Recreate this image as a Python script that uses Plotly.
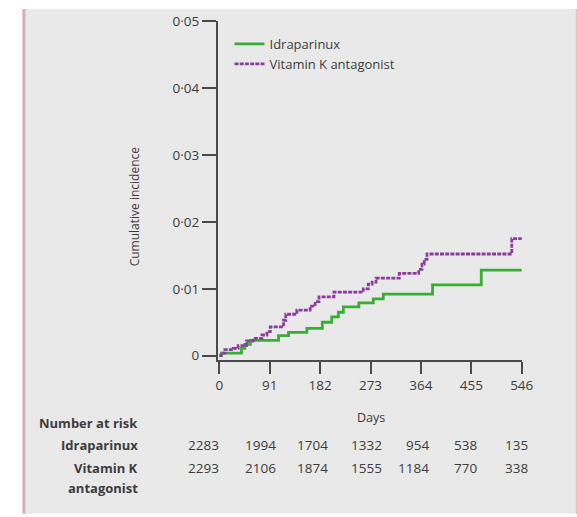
import plotly.graph_objects as go

# ---- data ----
idra_days = [0, 4, 40, 46, 56, 107, 125, 158, 186, 203, 215, 224, 252, 278, 296, 385, 473, 546]
idra_inc = [0, 0.0004, 0.0011, 0.0017, 0.0023, 0.0030, 0.0035, 0.0041, 0.0050, 0.0058, 0.0065,
            0.0073, 0.0079, 0.0085, 0.0092, 0.0106, 0.0128, 0.0128]

vka_days = [0, 3, 10, 25, 34, 49, 61, 77, 86, 92, 116, 120, 140, 164, 173, 180, 207, 260, 269,
            276, 283, 325, 360, 366, 370, 375, 528, 546]
vka_inc = [0, 0.0004, 0.0009, 0.0011, 0.0015, 0.0022, 0.0026, 0.0031, 0.0036, 0.0043, 0.0053,
           0.0062, 0.0068, 0.0074, 0.0081, 0.0088, 0.0095, 0.0100, 0.0107, 0.0110, 0.0116,
           0.0123, 0.0129, 0.0137, 0.0144, 0.0152, 0.0175, 0.0175]

x_ticks = [0, 91, 182, 273, 364, 455, 546]
y_ticks = [0, 0.01, 0.02, 0.03, 0.04, 0.05]
y_tick_labels = ["0", "0·01", "0·02", "0·03", "0·04", "0·05"]

risk_idra = [2283, 1994, 1704, 1332, 954, 538, 135]
risk_vka = [2293, 2106, 1874, 1555, 1184, 770, 338]

series_names = ["Idraparinux", "Vitamin K antagonist"]

# ---- layout geometry ----
W, H = 577, 517
ML, MR, MT, MB = 218, 55, 18, 157
PW, PH = W - ML - MR, H - MT - MB


def px_x(px):
    return (px - ML) / PW


def px_y(py):
    return (H - MB - py) / PH


FONT = "Open Sans"
TXT = "#3d3d3d"
GREEN = "#3aad37"
PURPLE = "#8a3d9f"
BG = "#e9e9e9"
AX = "#4a4a4a"

fig = go.Figure()
fig.add_trace(go.Scatter(x=idra_days, y=idra_inc, mode="lines", line_shape="hv",
                         name=series_names[0], line=dict(color=GREEN, width=2.8)))
fig.add_trace(go.Scatter(x=vka_days, y=vka_inc, mode="lines", line_shape="hv",
                         name=series_names[1], line=dict(color=PURPLE, width=2.8, dash="4px,1.2px")))

ann = []
# y-axis title
ann.append(dict(text="Cumulative incidence", x=px_x(134), y=px_y(205), xref="paper", yref="paper",
                xanchor="center", yanchor="middle",
                textangle=-90, showarrow=False, font=dict(size=12, color=TXT, family=FONT)))
# x title
ann.append(dict(text="Days", x=px_x(371), y=px_y(418), xref="paper", yref="paper",
                xanchor="center", yanchor="middle",
                showarrow=False, font=dict(size=12.5, color=TXT, family=FONT)))
# risk table labels
for txt, py in [("Number at risk", 424), ("Idraparinux", 446), ("Vitamin K", 469), ("antagonist", 489)]:
    ann.append(dict(text="<b>" + txt + "</b>", x=px_x(140), y=px_y(py), xref="paper", yref="paper",
                    xanchor="right", yanchor="middle", showarrow=False,
                    font=dict(size=13, color=TXT, family=FONT)))
shifts = [2, 8, 10, 13, 10, 8, 8]
for vals, py in [(risk_idra, 446), (risk_vka, 469)]:
    for d, v, s in zip(x_ticks, vals, shifts):
        ann.append(dict(text=str(v), x=d, y=px_y(py), xref="x", yref="paper", xanchor="right",
                        yanchor="middle", xshift=s, showarrow=False,
                        font=dict(size=13.5, color=TXT, family=FONT)))

shapes = [
    dict(type="rect", xref="paper", yref="paper", x0=px_x(-5), x1=px_x(22), y0=px_y(-5), y1=px_y(525),
         fillcolor="white", line=dict(width=0), layer="below"),
    dict(type="rect", xref="paper", yref="paper", x0=px_x(-5), x1=px_x(585), y0=px_y(-5), y1=px_y(6),
         fillcolor="white", line=dict(width=0), layer="below"),
    dict(type="rect", xref="paper", yref="paper", x0=px_x(-5), x1=px_x(585), y0=px_y(515), y1=px_y(525),
         fillcolor="white", line=dict(width=0), layer="below"),
    dict(type="line", xref="paper", yref="paper", x0=px_x(24), x1=px_x(24), y0=px_y(6), y1=px_y(515),
         line=dict(color="#d9b0b9", width=3), layer="below"),
    dict(type="line", xref="paper", yref="paper", x0=px_x(576.5), x1=px_x(576.5), y0=px_y(6), y1=px_y(515),
         line=dict(color="#e3c3c9", width=1.5), layer="below"),
]

fig.update_layout(
    width=W, height=H,
    margin=dict(l=ML, r=MR, t=MT, b=MB, pad=0),
    paper_bgcolor=BG, plot_bgcolor=BG,
    font=dict(family=FONT, size=12, color=TXT),
    showlegend=True,
    legend=dict(x=px_x(229.5), y=px_y(26), xanchor="left", yanchor="top", bgcolor="rgba(0,0,0,0)",
                font=dict(size=13, color=TXT, family=FONT), tracegroupgap=0),
    xaxis=dict(range=[-2.35, 546.5], tickvals=x_ticks, ticktext=[str(t) for t in x_ticks],
               showgrid=False, zeroline=False, showline=True, linecolor=AX, linewidth=2,
               ticks="outside", ticklen=12, tickwidth=2, tickcolor=AX,
               tickfont=dict(size=13.5, color=TXT, family=FONT)),
    yaxis=dict(range=[-0.00064, 0.05003], tickvals=y_ticks, ticktext=y_tick_labels,
               showgrid=False, zeroline=False, showline=True, linecolor=AX, linewidth=2,
               ticks="outside", ticklen=14, tickwidth=2, tickcolor=AX,
               tickfont=dict(size=13.5, color=TXT, family=FONT)),
    annotations=ann,
    shapes=shapes,
)

fig.write_html("out.html", config={"displayModeBar": False},
               post_script="document.body.style.margin='0';")
